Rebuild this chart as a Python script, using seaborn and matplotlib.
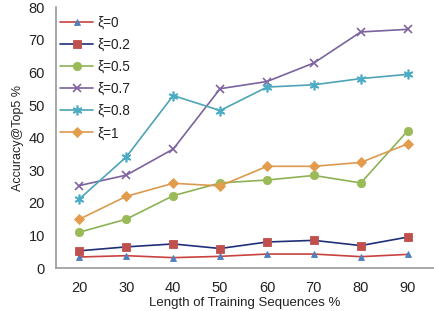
import matplotlib
matplotlib.use('Agg')
import matplotlib.pyplot as plt
import seaborn as sns
import pandas as pd
from matplotlib.ticker import MultipleLocator, FixedLocator

# values
lengths = [20, 30, 40, 50, 60, 70, 80, 90]
xi_labels = ['ξ=0', 'ξ=0.2', 'ξ=0.5', 'ξ=0.7', 'ξ=0.8', 'ξ=1']
acc_xi_0 = [3.4, 3.8, 3.2, 3.6, 4.3, 4.3, 3.5, 4.2]
acc_xi_02 = [5.3, 6.5, 7.4, 6.0, 8.0, 8.5, 6.9, 9.5]
acc_xi_05 = [11.0, 15.0, 22.2, 26.1, 27.0, 28.4, 26.1, 42.1]
acc_xi_07 = [25.3, 28.5, 36.5, 55.0, 57.2, 62.9, 72.4, 73.2]
acc_xi_08 = [21.2, 34.1, 52.9, 48.3, 55.5, 56.2, 58.1, 59.4]
acc_xi_1 = [15.0, 22.0, 26.0, 25.2, 31.2, 31.2, 32.4, 38.1]

series = [acc_xi_0, acc_xi_02, acc_xi_05, acc_xi_07, acc_xi_08, acc_xi_1]

# line colour, marker colour, marker, size
estilos = {
    'ξ=0': ('#C8423F', '#4F7FBD', '^', 5),
    'ξ=0.2': ('#1F2F7A', '#C0504D', 's', 5.5),
    'ξ=0.5': ('#8DB255', '#9BBB59', 'o', 6),
    'ξ=0.7': ('#7A639E', '#8064A2', 'x', 6),
    'ξ=0.8': ('#4EA3B5', '#4BACC6', (6, 2, 0), 7),
    'ξ=1': ('#DB9A4E', '#E39B4C', 'D', 5),
}

linhas = []
for lab, vals in zip(xi_labels, series):
    for x, y in zip(lengths, vals):
        linhas.append({'len': x, 'acc': y, 'xi': lab})
df = pd.DataFrame(linhas)

sns.set_style('white')
plt.rcParams['font.family'] = ['Liberation Sans', 'DejaVu Sans']

fig = plt.figure(figsize=(4.34, 3.11), dpi=100)
ax = fig.add_axes([0.129, 0.138, 0.871, 0.839])

for lab in xi_labels:
    cor_linha, cor_marc, marc, ms = estilos[lab]
    sub = df[df['xi'] == lab]
    fino = marc in ('x', (6, 2, 0))
    sns.lineplot(data=sub, x='len', y='acc', ax=ax, color=cor_linha, lw=1.2,
                 marker=marc, markersize=ms, markerfacecolor=cor_marc,
                 markeredgecolor=cor_marc,
                 markeredgewidth=1.2 if fino else 0.6,
                 label=lab)

ax.set_xlim(15, 95.6)
ax.set_ylim(0, 80)
ax.yaxis.set_major_locator(MultipleLocator(10))
ax.xaxis.set_major_locator(FixedLocator(lengths))
ax.xaxis.set_minor_locator(FixedLocator([25, 35, 45, 55, 65, 75, 85, 95]))
ax.tick_params(axis='x', which='major', length=0, labelsize=10.5, pad=9, colors='#222222')
ax.tick_params(axis='x', which='minor', length=4, width=0.8, color='#999999', direction='out')
ax.tick_params(axis='y', which='major', length=4, width=0.8, color='#999999',
               direction='out', labelsize=10.5, pad=4, labelcolor='#222222')

for s in ['top', 'right']:
    ax.spines[s].set_visible(False)
for s in ['left', 'bottom']:
    ax.spines[s].set_color('#999999')
    ax.spines[s].set_linewidth(1.2)

ax.set_xlabel('Length of Training Sequences %', fontsize=9.5, color='#222222', labelpad=2)
ax.set_ylabel('Accuracy@Top5 %', fontsize=9, color='#222222', labelpad=3)

leg = ax.legend(loc='upper left', bbox_to_anchor=(-0.01, 1.0), frameon=False,
                fontsize=9.8, handlelength=2.4, handletextpad=0.3,
                labelspacing=0.6, borderaxespad=0.2)
for t in leg.get_texts():
    t.set_color('#222222')

fig.savefig('out.png', dpi=100)
plt.close(fig)
